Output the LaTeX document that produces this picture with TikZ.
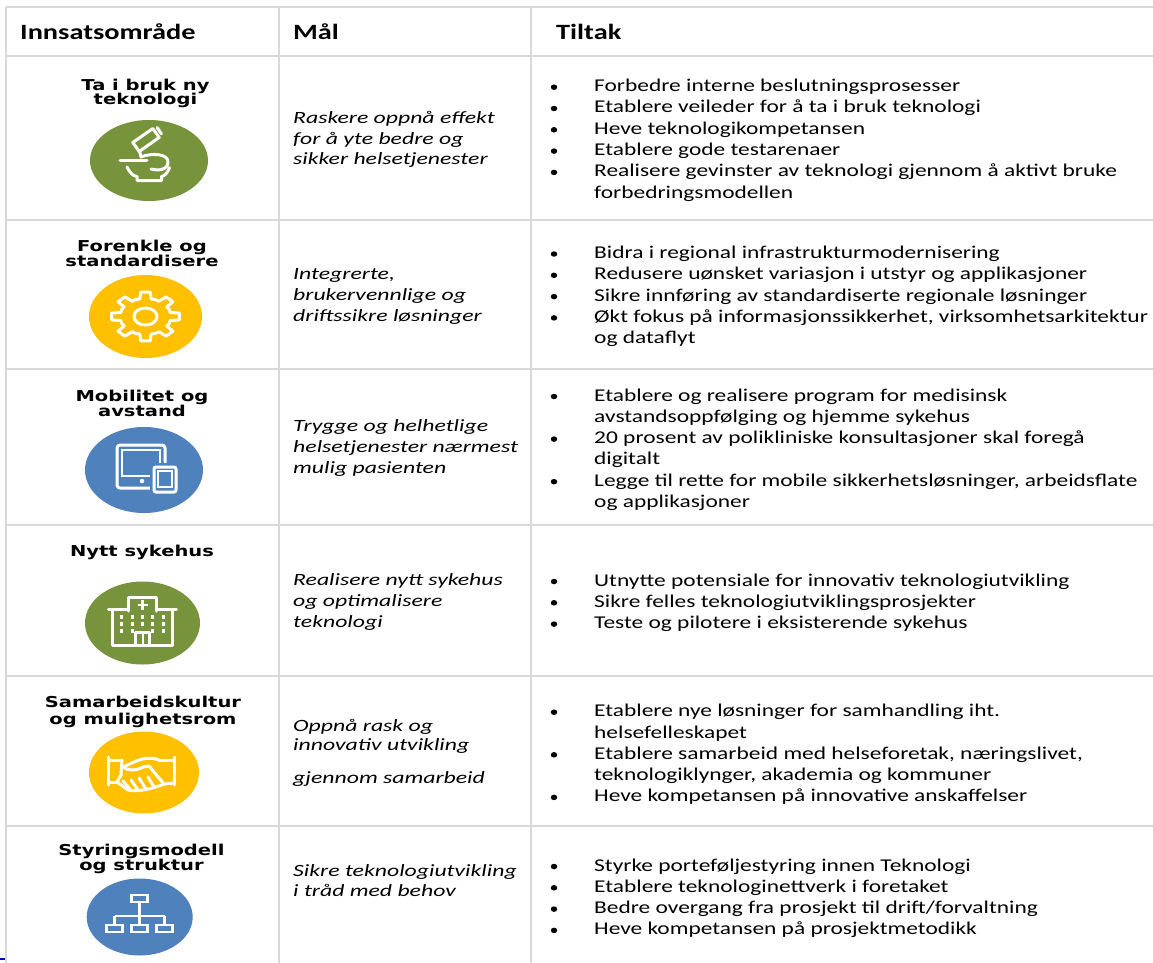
\documentclass[tikz,border=0pt]{standalone}
\usepackage{fontspec}
\setmainfont{Carlito}
\newfontfamily\tfont[FakeStretch=1.3]{Carlito}
\newfontfamily\mfont[FakeStretch=1.38]{Carlito}
\newfontfamily\lfont[FakeStretch=1.3]{DejaVu Sans}
\usetikzlibrary{shapes.geometric}
\definecolor{gridc}{HTML}{D9D9D9}
\definecolor{igreen}{HTML}{77933C}
\definecolor{iyellow}{HTML}{FFC000}
\definecolor{iblue}{HTML}{4F81BD}
\tikzset{
  gridline/.style={draw=gridc, line width=1.5pt},
  hdr/.style={anchor=base west, inner sep=0pt, font=\tfont\bfseries\fontsize{21.8}{26}\selectfont},
  lbl/.style={anchor=base, inner sep=0pt, font=\lfont\bfseries\fontsize{15}{14.3}\selectfont},
  mal/.style={anchor=base west, inner sep=0pt, font=\mfont\itshape\fontsize{17.2}{20}\selectfont},
  tl/.style={anchor=base west, inner sep=0pt, font=\tfont\fontsize{18}{21.3}\selectfont},
  bul/.style={ellipse, fill=black, inner sep=0pt, minimum width=6.5pt, minimum height=5.5pt},
  icobg/.style={ellipse, inner sep=0pt},
  ico/.style={draw=white, line width=3pt, line join=round, line cap=round},
}
\begin{document}
\begin{tikzpicture}[x=1pt, y=-1pt]
\useasboundingbox (0,0) rectangle (1153,963);
\fill[white] (0,0) rectangle (1153,963);
% grid
\foreach \yy in {7,56,220,369,525,676,826} { \draw[gridline] (6,\yy) -- (1153,\yy); }
\foreach \xx in {6,279,531} { \draw[gridline] (\xx,7) -- (\xx,963); }
\draw[blue!70!black, line width=1.2pt] (0,959) -- (5,959);
% headers
\node[hdr] (h1) at (20,39.3) {Innsatsområde};
\node[hdr] (h2) at (293,39.3) {Mål};
\node[hdr] (h3) at (556,39.3) {Tiltak};
% labels
\node[lbl] (l1a) at (145.5,90.7) {Ta i bruk ny};
\node[lbl] (l1b) at (145.5,105) {teknologi};
\node[lbl] (l2a) at (142,251.7) {Forenkle og};
\node[lbl] (l2b) at (142,266.7) {standardisere};
\node[lbl] (l3a) at (142,401.7) {Mobilitet og};
\node[lbl] (l3b) at (142,416.7) {avstand};
\node[lbl] (l4a) at (142,556) {Nytt sykehus};
\node[lbl] (l5a) at (143,707.7) {Samarbeidskultur};
\node[lbl] (l5b) at (143,724) {og mulighetsrom};
\node[lbl] (l6a) at (141.5,855) {Styringsmodell};
\node[lbl] (l6b) at (141.5,870.7) {og struktur};
% icon backgrounds
\node[icobg, fill=igreen, minimum width=118pt, minimum height=81pt] (c1) at (149,160.5) {};
\node[icobg, fill=iyellow, minimum width=113pt, minimum height=83pt] (c2) at (145.5,316.5) {};
\node[icobg, fill=iblue, minimum width=118pt, minimum height=86pt] (c3) at (144,470) {};
\node[icobg, fill=igreen, minimum width=115pt, minimum height=83pt] (c4) at (142.5,623) {};
\node[icobg, fill=iyellow, minimum width=110pt, minimum height=82pt] (c5) at (144,772.5) {};
\node[icobg, fill=iblue, minimum width=106pt, minimum height=77pt] (c6) at (139.7,917) {};
% icon 1: microscope
\begin{scope}[shift={(150,161)}]
  \draw[ico] (-30,-1) -- (-3,-1);
  \draw[ico] (-10.8,-9.5) -- (9.2,-23.5) -- (2.8,-32.5) -- (-17.2,-18.5) -- cycle;
  \draw[ico] (11.5,-27.1) -- (7.1,-33.5);
  \draw[ico] (-10.5,-10) -- (-9,-4) .. controls (0,-8) and (18,-8) .. (18,1) .. controls (18,9) and (8,10) .. (1,8);
  \draw[ico] (-23,6) .. controls (-20,12) and (-17,15) .. (-13,15.5) -- (-13,19.5) -- (11.5,19.5) -- (11.5,15.5) .. controls (15,15) and (18,11) .. (19.5,6.5);
\end{scope}
% icon 2: gear
\begin{scope}[shift={(145.5,316.5)}, xscale=1.4]
  \draw[ico] ({-13}:18) \foreach \a in {0,45,...,315}{ -- ({\a-13}:18) -- ({\a-8}:24.5) -- ({\a+8}:24.5) -- ({\a+13}:18) -- ({\a+22.5}:18.4) } -- cycle;
\end{scope}
\node[ellipse, draw=white, line width=3pt, minimum width=23pt, minimum height=17pt, inner sep=0pt] (g2) at (145.5,316.5) {};
% icon 3: tablet and phone
\begin{scope}[shift={(144,470)}]
  \draw[ico, rounded corners=3pt] (-27,-25) rectangle (21,18);
  \draw[draw=white, line width=2pt] (-22,-20) rectangle (16,6);
  \draw[draw=iblue, fill=iblue, line width=8pt] (10,-3) rectangle (32,22);
  \draw[ico, rounded corners=2pt] (10,-3) rectangle (32,22);
  \draw[draw=white, line width=1.5pt] (14,1) rectangle (28,17);
\end{scope}
\node[circle, fill=white, inner sep=0pt, minimum size=4.5pt] (d3) at (142,481) {};
% icon 4: hospital
\begin{scope}[shift={(142.5,623)}]
  \draw[ico] (-30,-12) -- (-30,22) -- (30,22) -- (30,-12);
  \draw[ico] (-34,-14) -- (-14,-14);
  \draw[ico] (14,-14) -- (34,-14);
  \draw[ico] (-14,-12) -- (-14,-26) -- (14,-26) -- (14,-12);
  \draw[draw=white, line width=2.5pt] (-5,-18) -- (5,-18);
  \draw[draw=white, line width=2.5pt] (0,-23) -- (0,-13);
  \foreach \wx in {-21,-10,10,21} { \foreach \wy in {-6,1,8} { \fill[white] (\wx-1.8,\wy-1.8) rectangle (\wx+1.8,\wy+1.8); } }
  \foreach \wy in {-6,1} { \fill[white] (-1.8,\wy-1.8) rectangle (1.8,\wy+1.8); }
  \draw[ico] (-7,22) -- (-7,9) -- (7,9) -- (7,22);
  \draw[draw=white, line width=2pt] (0,9) -- (0,22);
\end{scope}
% icon 5: handshake
\begin{scope}[shift={(146,772)}]
  \draw[ico] (-37.5,-15) -- (-37.5,13);
  \draw[ico] (28,-15) -- (28,13);
  \draw[ico] (-37.5,-12) -- (-24,-12);
  \draw[ico] (-37.5,10) -- (-29,10);
  \draw[ico] (28,-12) -- (13,-12);
  \draw[ico] (28,11) -- (18,12);
  \draw[ico] (13,-12) .. controls (6,-15) and (-4,-14) .. (-12,-10) -- (-23,-5) .. controls (-18,-1) and (-10,-1) .. (-3,-5) -- (3,-6) -- (18,12);
  \draw[ico] (-24,-12) -- (-25,3) -- (-29,10) -- (-18,18);
  \draw[ico] (-18,18) .. controls (-8,20) and (6,17) .. (18,12);
  \draw[ico] (-16,17) -- (-23,9);
  \draw[ico] (-8,18) -- (-15,8);
  \draw[ico] (0,17) -- (-7,6);
  \draw[ico] (8,15) -- (2,5);
\end{scope}
% icon 6: org chart
\begin{scope}[shift={(139.7,917)}]
  \draw[draw=white, line width=2.5pt] (-8,-22) rectangle (8,-15);
  \draw[draw=white, line width=2.5pt] (0,-15) -- (0,-1);
  \draw[draw=white, line width=2.5pt] (-25,-1) -- (25,-1);
  \foreach \bx in {-25,0,25} {
    \draw[draw=white, line width=2.5pt] (\bx,-1) -- (\bx,8);
    \draw[draw=white, line width=2.5pt] (\bx-8,8) rectangle (\bx+8,15);
  }
\end{scope}
% Mål column
\node[mal] (m1a) at (293,124) {Raskere oppnå effekt};
\node[mal] (m1b) at (293,144) {for å yte bedre og};
\node[mal] (m1c) at (293,164) {sikker helsetjenester};
\node[mal] (m2a) at (293,279) {Integrerte,};
\node[mal] (m2b) at (293,300) {brukervennlige og};
\node[mal] (m2c) at (293,321) {driftssikre løsninger};
\node[mal] (m3a) at (293,431) {Trygge og helhetlige};
\node[mal] (m3b) at (293,452) {helsetjenester nærmest};
\node[mal] (m3c) at (293,473) {mulig pasienten};
\node[mal] (m4a) at (293,585) {Realisere nytt sykehus};
\node[mal] (m4b) at (293,606) {og optimalisere};
\node[mal] (m4c) at (293,627) {teknologi};
\node[mal] (m5a) at (293,731.7) {Oppnå rask og};
\node[mal] (m5b) at (293,750.7) {innovativ utvikling};
\node[mal] (m5c) at (293,783.3) {gjennom samarbeid};
\node[mal] (m6a) at (293,876.7) {Sikre teknologiutvikling};
\node[mal] (m6b) at (293,896) {i tråd med behov};
% Tiltak column
\foreach \yy/\nm/\txt/\hasb in {
  91.7/t1a/{Forbedre interne beslutningsprosesser}/1,
  113/t1b/{Etablere veileder for å ta i bruk teknologi}/1,
  134.3/t1c/{Heve teknologikompetansen}/1,
  155.6/t1d/{Etablere gode testarenaer}/1,
  176.9/t1e/{Realisere gevinster av teknologi gjennom å aktivt bruke}/1,
  198.2/t1f/{forbedringsmodellen}/0,
  258.5/t2a/{Bidra i regional infrastrukturmodernisering}/1,
  279.8/t2b/{Redusere uønsket variasjon i utstyr og applikasjoner}/1,
  301.1/t2c/{Sikre innføring av standardiserte regionale løsninger}/1,
  322.4/t2d/{Økt fokus på informasjonssikkerhet, virksomhetsarkitektur}/1,
  343.7/t2e/{og dataflyt}/0,
  401/t3a/{Etablere og realisere program for medisinsk}/1,
  422.3/t3b/{avstandsoppfølging og hjemme sykehus}/0,
  443.6/t3c/{20 prosent av polikliniske konsultasjoner skal foregå}/1,
  464.9/t3d/{digitalt}/0,
  486.2/t3e/{Legge til rette for mobile sikkerhetsløsninger, arbeidsflate}/1,
  507.5/t3f/{og applikasjoner}/0,
  586/t4a/{Utnytte potensiale for innovativ teknologiutvikling}/1,
  607.3/t4b/{Sikre felles teknologiutviklingsprosjekter}/1,
  628.6/t4c/{Teste og pilotere i eksisterende sykehus}/1,
  716.7/t5a/{Etablere nye løsninger for samhandling iht.}/1,
  738/t5b/{helsefelleskapet}/0,
  759.3/t5c/{Etablere samarbeid med helseforetak, næringslivet,}/1,
  780.6/t5d/{teknologiklynger, akademia og kommuner}/0,
  801.9/t5e/{Heve kompetansen på innovative anskaffelser}/1,
  871/t6a/{Styrke porteføljestyring innen Teknologi}/1,
  892.3/t6b/{Etablere teknologinettverk i foretaket}/1,
  913.6/t6c/{Bedre overgang fra prosjekt til drift/forvaltning}/1,
  934.9/t6d/{Heve kompetansen på prosjektmetodikk}/1} {
  \node[tl] (\nm) at (594,\yy) {\txt};
  \ifnum\hasb=1 \node[bul] (\nm-b) at (554,\yy-4.5) {}; \fi
}
\end{tikzpicture}
\end{document}
